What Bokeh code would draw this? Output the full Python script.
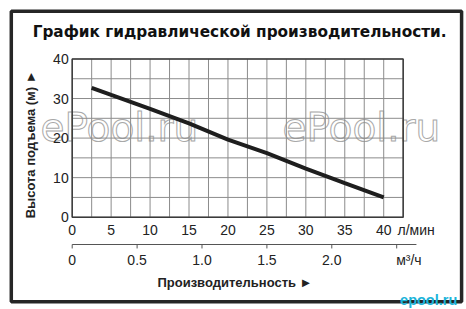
from math import pi

from bokeh.core.properties import value
from bokeh.embed import file_html
from bokeh.models import Range1d
from bokeh.plotting import figure
from bokeh.resources import INLINE

# Pump performance curve: flow (l/min) vs. head (m)
flow_lpm = [2.5, 5, 10, 15, 20, 25, 30, 35, 40]
head_m = [32.7, 30.9, 27.4, 23.7, 19.6, 16.2, 12.3, 8.6, 5.0]

flow_ticks = [0, 5, 10, 15, 20, 25, 30, 35, 40]
head_ticks = [0, 10, 20, 30, 40]
m3h_ticks = [0, 0.5, 1.0, 1.5, 2.0, 2.5]
m3h_labels = ["0", "0.5", "1.0", "1.5", "2.0"]

LPM_TO_M3H = 0.06          # 1 l/min = 0.06 m3/h
GRID_X_STEP = 2.5
GRID_Y_STEP = 5
GRID_X_END = 42.5
GRID_Y_END = 40

TITLE = "График гидравлической производительности."
Y_LABEL = "Высота подъема (м) ►"
X_LABEL = "Производительность ►"
FLOW_UNIT = "л/мин"
M3H_UNIT = "м³/ч"
SITE = "ePool.ru"
SITE_SMALL = "epool.ru"

SANS = value("Liberation Sans")
DARK = "#222222"

# The plotting frame covers the whole canvas; everything is placed in data units
p = figure(width=466, height=309, output_backend="svg", toolbar_location=None,
           x_range=Range1d(-9.206, 50.63), y_range=Range1d(-23.33, 54.78),
           x_axis_location=None, y_axis_location=None, min_border=0)
p.outline_line_color = None
p.grid.visible = False
p.background_fill_color = "white"
p.border_fill_color = "white"

# Hollow site marks, drawn first so the grid shows through them
p.text(x=[-4.07, 27.0], y=[22.7, 22.7], text=[SITE, SITE],
       text_align="left", text_baseline="alphabetic",
       text_font=value("DejaVu Sans"), text_font_size="39px",
       text_color="white", text_outline_color="#a8a8a8")

# Grid of the chart box
gx = [i * GRID_X_STEP for i in range(int(GRID_X_END / GRID_X_STEP) + 1)]
gy = [i * GRID_Y_STEP for i in range(int(GRID_Y_END / GRID_Y_STEP) + 1)]
p.segment(x0=gx, y0=[0] * len(gx), x1=gx, y1=[GRID_Y_END] * len(gx),
          line_color="#8c8c8c", line_width=1)
p.segment(x0=[0] * len(gy), y0=gy, x1=[GRID_X_END] * len(gy), y1=gy,
          line_color="#8c8c8c", line_width=1)
p.quad(left=[0], right=[GRID_X_END], bottom=[0], top=[GRID_Y_END],
       fill_color=None, line_color="#3a3a3a", line_width=1.5)

# Performance curve
p.line(flow_lpm, head_m, line_color="#1e1e1e", line_width=4)

# Head tick labels
p.text(x=[-0.45] * len(head_ticks), y=head_ticks,
       text=[str(t) for t in head_ticks], text_align="right",
       text_baseline="middle", text_font=SANS, text_font_size="14px",
       text_color=DARK)

# Flow (l/min) tick labels
p.text(x=flow_ticks, y=[-3.24] * len(flow_ticks),
       text=[str(t) for t in flow_ticks], text_align="center",
       text_baseline="middle", text_font=SANS, text_font_size="14px",
       text_color=DARK)
p.text(x=[41.77], y=[-3.3], text=[FLOW_UNIT], text_align="left",
       text_baseline="middle", text_font=SANS, text_font_size="14px",
       text_color=DARK)

# Flow (m3/h) scale
m3h_x = [t / LPM_TO_M3H for t in m3h_ticks]
axis_y = -6.9
p.segment(x0=[0], y0=[axis_y], x1=[44.2], y1=[axis_y],
          line_color="#555555", line_width=1)
p.segment(x0=m3h_x, y0=[axis_y] * len(m3h_x), x1=m3h_x,
          y1=[axis_y - 1.0] * len(m3h_x), line_color="#555555", line_width=1)
p.text(x=m3h_x[:len(m3h_labels)], y=[-10.8] * len(m3h_labels),
       text=m3h_labels, text_align="center", text_baseline="middle",
       text_font=SANS, text_font_size="14px", text_color=DARK)
p.text(x=[41.6], y=[-10.8], text=[M3H_UNIT], text_align="left",
       text_baseline="middle", text_font=SANS, text_font_size="14px",
       text_color=DARK)

# Axis titles and chart title
p.text(x=[-5.3], y=[18.4], text=[Y_LABEL], angle=pi / 2,
       text_align="center", text_baseline="middle", text_font=SANS,
       text_font_style="bold", text_font_size="13px", text_color=DARK)
p.text(x=[20.9], y=[-16.4], text=[X_LABEL], text_align="center",
       text_baseline="middle", text_font=SANS, text_font_style="bold",
       text_font_size="13px", text_color=DARK)
p.text(x=[21.5], y=[46.7], text=[TITLE], text_align="center",
       text_baseline="middle", text_font=value("DejaVu Sans"),
       text_font_style="bold", text_font_size="15.3px", text_color="#111111")

# Outer frame
p.quad(left=[-7.82], right=[50.0], bottom=[-21.4], top=[52.05],
       fill_color=None, line_color="#262626", line_width=3.5)

# Small site mark in the corner
p.text(x=[42.1], y=[-20.9], text=[SITE_SMALL], text_align="left",
       text_baseline="alphabetic", text_font=SANS,
       text_font_style="bold", text_font_size="14.5px", text_color="#1cb4da")

open("out.html", "w").write(file_html(p, INLINE))
